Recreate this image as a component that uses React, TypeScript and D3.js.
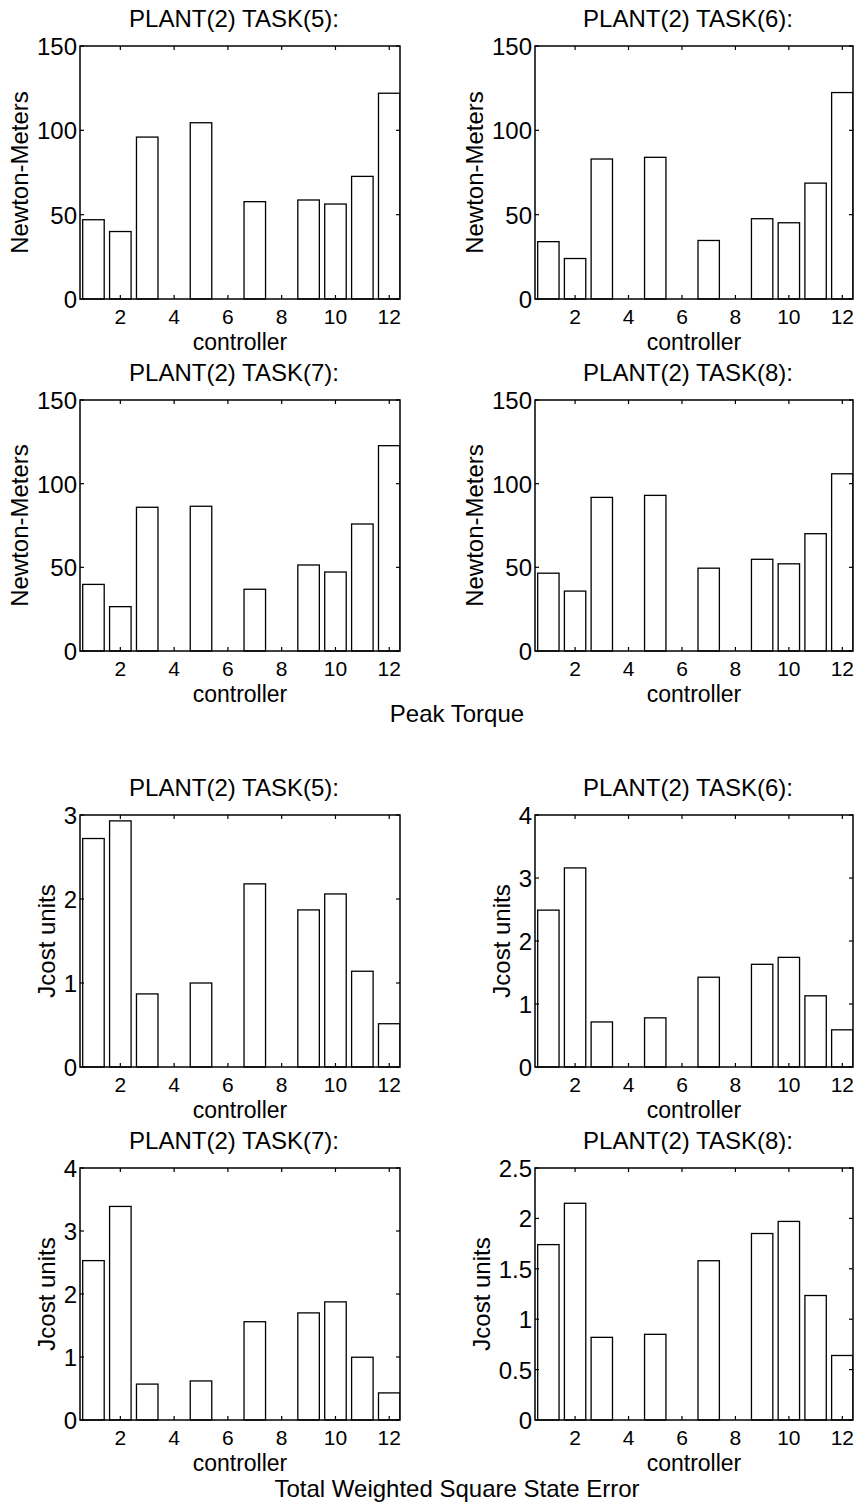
import * as d3 from "d3";

const controllers = [1, 2, 3, 4, 5, 6, 7, 8, 9, 10, 11, 12];
const xTicks = [2, 4, 6, 8, 10, 12];

const torqueTask5 = [47, 40, 96, 0, 104.5, 0, 57.7, 0, 58.7, 56.3, 72.7, 122];
const torqueTask6 = [34, 24, 83, 0, 84, 0, 34.7, 0, 47.6, 45.2, 68.7, 122.4];
const torqueTask7 = [39.8, 26.5, 85.9, 0, 86.5, 0, 36.9, 0, 51.4, 47.2, 75.9, 122.7];
const torqueTask8 = [46.5, 35.8, 91.8, 0, 93, 0, 49.5, 0, 54.8, 52.1, 70.1, 105.9];

const costTask5 = [2.72, 2.93, 0.87, 0, 1.0, 0, 2.18, 0, 1.87, 2.06, 1.14, 0.515];
const costTask6 = [2.49, 3.16, 0.715, 0, 0.78, 0, 1.425, 0, 1.63, 1.74, 1.13, 0.59];
const costTask7 = [2.53, 3.39, 0.57, 0, 0.62, 0, 1.56, 0, 1.7, 1.875, 0.996, 0.43];
const costTask8 = [1.74, 2.15, 0.82, 0, 0.85, 0, 1.58, 0, 1.85, 1.97, 1.235, 0.64];

const torqueTicks = [0, 50, 100, 150];
const cost3Ticks = [0, 1, 2, 3];
const cost4Ticks = [0, 1, 2, 3, 4];
const cost25Ticks = [0, 0.5, 1, 1.5, 2, 2.5];

const FONT = "'Liberation Sans', Arial, Helvetica, sans-serif";
const FS = 24;

// rough arial width of a tick label, used to place the y label
const labelWidth = (s: string) =>
  s.split("").reduce((w, c) => w + (c === "." ? 0.278 : 0.556), 0) * FS;

type PanelProps = {
  title: string;
  values: number[];
  ticks: number[];
  ylabel: string;
  left: number;
  right: number;
  top: number;
  bottom: number;
  xlabelDy?: number;
};

const Panel = ({ title, values, ticks, ylabel, left, right, top, bottom, xlabelDy = 51 }: PanelProps) => {
  const x = d3.scaleLinear().domain([0.5, 12.4]).range([left, right]);
  const y = d3.scaleLinear().domain([0, ticks[ticks.length - 1]]).range([bottom, top]);
  const barW = x(0.8) - x(0);
  const tickLen = 4;
  const maxW = d3.max(ticks, (t) => labelWidth(String(t))) || 0;
  const ylabelX = left - 3 - maxW - 9;
  const midY = (top + bottom) / 2;

  return (
    <g>
      <defs>
        <clipPath id={`clip-${left}-${top}`}>
          <rect x={left} y={top - 1} width={right - left} height={bottom - top + 2} />
        </clipPath>
      </defs>
      <text x={(left + right) / 2 - 6} y={top - 19} textAnchor="middle" fontSize={FS}>
        {title}
      </text>

      <g clipPath={`url(#clip-${left}-${top})`}>
        {controllers.map((c, i) => (
          <rect
            key={c}
            x={x(c) - barW / 2}
            y={y(values[i])}
            width={barW}
            height={y(0) - y(values[i])}
            fill="#fff"
            stroke="#000"
            strokeWidth={1.3}
          />
        ))}
      </g>

      {xTicks.map((t) => (
        <g key={t}>
          <line x1={x(t)} x2={x(t)} y1={bottom} y2={bottom - tickLen} stroke="#000" strokeWidth={1.2} />
          <line x1={x(t)} x2={x(t)} y1={top} y2={top + tickLen} stroke="#000" strokeWidth={1.2} />
          <text x={x(t)} y={bottom + 25} textAnchor="middle" fontSize={21}>
            {t}
          </text>
        </g>
      ))}

      {ticks.map((t) => (
        <g key={t}>
          <line x1={left} x2={left + tickLen} y1={y(t)} y2={y(t)} stroke="#000" strokeWidth={1.2} />
          <line x1={right} x2={right - tickLen} y1={y(t)} y2={y(t)} stroke="#000" strokeWidth={1.2} />
          <text x={left - 3} y={y(t) + 9} textAnchor="end" fontSize={FS}>
            {String(t)}
          </text>
        </g>
      ))}

      <rect x={left} y={top} width={right - left} height={bottom - top} fill="none" stroke="#000" strokeWidth={1.5} />

      <text x={(left + right) / 2} y={bottom + xlabelDy} textAnchor="middle" fontSize={23}>
        controller
      </text>
      <text
        transform={`translate(${ylabelX},${midY}) rotate(-90)`}
        textAnchor="middle"
        fontSize={FS}
      >
        {ylabel}
      </text>
    </g>
  );
};

const L = [80, 400];
const R = [535, 853];

export default function App() {
  return (
    <svg
      width={859}
      height={1502}
      style={{ position: "absolute", left: 0, top: 0, background: "#fff" }}
      fontFamily={FONT}
      fill="#000"
    >
      <rect width={859} height={1502} fill="#fff" />
      <Panel title="PLANT(2) TASK(5):" values={torqueTask5} ticks={torqueTicks} ylabel="Newton-Meters"
        left={L[0]} right={L[1]} top={46} bottom={299} />
      <Panel title="PLANT(2) TASK(6):" values={torqueTask6} ticks={torqueTicks} ylabel="Newton-Meters"
        left={R[0]} right={R[1]} top={46} bottom={299} />
      <Panel title="PLANT(2) TASK(7):" values={torqueTask7} ticks={torqueTicks} ylabel="Newton-Meters"
        left={L[0]} right={L[1]} top={400} bottom={651} />
      <Panel title="PLANT(2) TASK(8):" values={torqueTask8} ticks={torqueTicks} ylabel="Newton-Meters"
        left={R[0]} right={R[1]} top={400} bottom={651} />
      <text x={457} y={722} textAnchor="middle" fontSize={FS}>Peak Torque</text>

      <Panel title="PLANT(2) TASK(5):" values={costTask5} ticks={cost3Ticks} ylabel="Jcost units"
        left={L[0]} right={L[1]} top={815} bottom={1067} />
      <Panel title="PLANT(2) TASK(6):" values={costTask6} ticks={cost4Ticks} ylabel="Jcost units"
        left={R[0]} right={R[1]} top={815} bottom={1067} />
      <Panel title="PLANT(2) TASK(7):" values={costTask7} ticks={cost4Ticks} ylabel="Jcost units"
        left={L[0]} right={L[1]} top={1168} bottom={1420} />
      <Panel title="PLANT(2) TASK(8):" values={costTask8} ticks={cost25Ticks} ylabel="Jcost units"
        left={R[0]} right={R[1]} top={1168} bottom={1420} />
      <text x={457} y={1497} textAnchor="middle" fontSize={FS}>Total Weighted Square State Error</text>
    </svg>
  );
}
